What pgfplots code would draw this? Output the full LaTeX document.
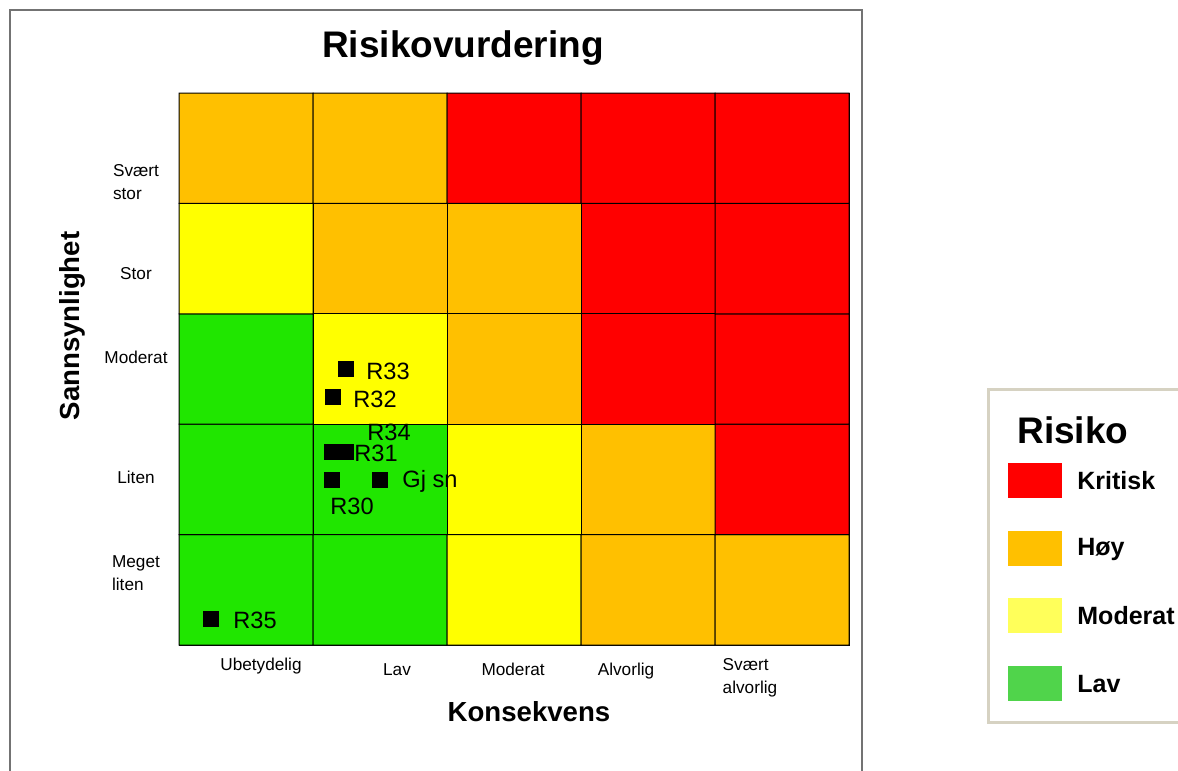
\documentclass[border=0pt]{standalone}
\usepackage{pgfplots}
\pgfplotsset{compat=1.18}
\usepackage{fontspec}
\setmainfont{Liberation Sans}
\definecolor{cgreen}{RGB}{32,230,0}
\definecolor{cyellow}{RGB}{255,255,0}
\definecolor{corange}{RGB}{255,192,0}
\definecolor{cred}{RGB}{255,0,0}
\definecolor{lgreen}{RGB}{80,212,75}
\definecolor{lyellow}{RGB}{255,255,90}
\definecolor{lborder}{RGB}{214,210,194}

\pgfplotstableread[col sep=comma]{
x,y,label,dx,dy
1.246,2.500,R33,10,-1
1.149,2.246,R32,10,-1
1.246,1.748,R34,10.5,10
1.142,1.748,R31,11,-0.5
1.142,1.495,R30,-1,-13
1.500,1.495,Gj sn,11,-0.5
0.239,0.236,R35,11,-0.5
}\points

\pgfplotstableread{
x y c
0.5 0.5 0
1.5 0.5 0
2.5 0.5 1
3.5 0.5 2
4.5 0.5 2
0.5 1.5 0
1.5 1.5 0
2.5 1.5 1
3.5 1.5 2
4.5 1.5 3
0.5 2.5 0
1.5 2.5 1
2.5 2.5 2
3.5 2.5 3
4.5 2.5 3
0.5 3.5 1
1.5 3.5 2
2.5 3.5 2
3.5 3.5 3
4.5 3.5 3
0.5 4.5 2
1.5 4.5 2
2.5 4.5 3
3.5 4.5 3
4.5 4.5 3
}\cells

\begin{document}
\begin{tikzpicture}[x=0.5pt,y=-0.5pt]
\useasboundingbox (0,0) rectangle (1178,771);
\fill[white] (0,0) rectangle (1178,771);
\draw[black!55, line width=0.6pt] (10,10) rectangle (862,800);

\begin{axis}[
  at={(89.5pt,-322.5pt)}, anchor=south west,
  width=335pt, height=276pt, scale only axis,
  xmin=0, xmax=5, ymin=0, ymax=5,
  axis line style={black, line width=0.5pt},
  major tick length=0pt,
  xtick={0.612,4.261},
  xticklabels={Ubetydelig,{Svært\\alvorlig}},
  extra x ticks={1.627,2.493,3.336},
  extra x tick labels={\strut Lav,\strut Moderat,\strut Alvorlig},
  extra x tick style={major tick length=0pt, xticklabel style={yshift=-0.8pt}},
  ytick={0.65,1.52,2.61,3.36,4.19},
  yticklabels={{Meget\\liten},Liten,Moderat,Stor,{Svært\\stor}},
  ticklabel style={font=\fontsize{8.6}{11.5}\selectfont, align=left},
  xticklabel style={anchor=north, yshift=-3pt},
  yticklabel style={anchor=center, xshift=-21.5pt},
  colormap={risk}{rgb255=(32,230,0) rgb255=(255,255,0) rgb255=(255,192,0) rgb255=(255,0,0)},
  colormap access=direct,
  clip=false,
]
\addplot[matrix plot*, mesh/cols=5, point meta=explicit, draw=black, line width=0.5pt]
  table[x=x, y=y, meta=c] {\cells};
\addplot[only marks, mark=square*, mark size=3.6pt, black,
  point meta=explicit symbolic,
  visualization depends on={\thisrow{dx} \as \dx},
  visualization depends on={\thisrow{dy} \as \dy},
  nodes near coords,
  every node near coord/.append style={anchor=west, inner sep=0pt, xshift=\dx pt, yshift=\dy pt, font=\fontsize{11.8}{13}\selectfont, text=black}]
  table[x=x, y=y, meta=label] {\points};
\end{axis}

\node[font=\bfseries\fontsize{18.5}{22}\selectfont] at (463,48) {Risikovurdering};
\node[font=\bfseries\fontsize{13.8}{16}\selectfont] at (529,712) {Konsekvens};
\node[font=\bfseries\fontsize{13.8}{16}\selectfont, rotate=90] at (72,326) {Sannsynlighet};

% legend
\draw[lborder, line width=1.5pt] (988,389) rectangle (1200,722);
\node[anchor=west, font=\bfseries\fontsize{18.5}{22}\selectfont, inner sep=0pt] at (1017,430) {Risiko};
\fill[cred] (1008,463) rectangle (1062,498);
\fill[corange] (1008,531) rectangle (1062,566);
\fill[lyellow] (1008,598) rectangle (1062,633);
\fill[lgreen] (1008,666) rectangle (1062,701);
\node[anchor=west, font=\bfseries\fontsize{12.5}{15}\selectfont, inner sep=0pt] at (1077,481) {Kritisk};
\node[anchor=west, font=\bfseries\fontsize{12.5}{15}\selectfont, inner sep=0pt] at (1077,549) {Høy};
\node[anchor=west, font=\bfseries\fontsize{12.5}{15}\selectfont, inner sep=0pt] at (1077,616) {Moderat};
\node[anchor=west, font=\bfseries\fontsize{12.5}{15}\selectfont, inner sep=0pt] at (1077,684) {Lav};
\end{tikzpicture}
\end{document}
